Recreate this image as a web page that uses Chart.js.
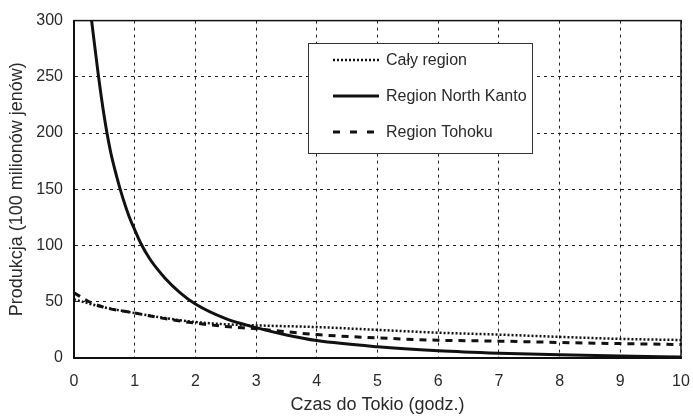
<!DOCTYPE html>
<html>
<head>
<meta charset="utf-8">
<script src="https://cdn.jsdelivr.net/npm/chart.js@4"></script>
<style>
  html, body { margin: 0; padding: 0; background: #fff; }
  #wrap { width: 693px; height: 419px; }
</style>
</head>
<body>
<div id="wrap"><canvas id="chart" width="693" height="419"></canvas></div>
<script>
// dane
const calyX = [0, 0.5, 1, 1.5, 2, 2.5, 3, 4, 5, 6, 7, 8, 9, 10];
const calyY = [52, 45, 40, 35.5, 32, 30, 29, 27.5, 25, 22.5, 20.8, 18.8, 17, 16];

const kantoX = [0.29, 0.4, 0.5, 0.6, 0.7, 0.8, 0.9, 1, 1.1, 1.25, 1.5, 1.75, 2, 2.5, 3, 3.5, 4, 5, 6, 7, 8, 9, 10];
const kantoY = [300, 252, 214, 184, 162, 143, 127, 114, 102, 88, 71, 58, 48, 35, 27, 20.5, 15.5, 10, 6.5, 4.3, 2.8, 1.7, 1];

const tohokuX = [0, 0.25, 0.5, 1, 1.5, 2, 2.5, 3, 4, 5, 6, 7, 8, 9, 10];
const tohokuY = [58, 50, 45, 40, 35, 31, 28, 26, 20.8, 17.9, 15.8, 15, 13.8, 12.8, 12];

const seriesNames = ["Cały region", "Region North Kanto", "Region Tohoku"];
const xTicks = [0, 1, 2, 3, 4, 5, 6, 7, 8, 9, 10];
const yTicks = [0, 50, 100, 150, 200, 250, 300];

const toPoints = (xs, ys) => xs.map((x, i) => ({ x, y: ys[i] }));

const FONT = "'Liberation Sans', Arial, sans-serif";
const TXT = "#2a2a2a";

// ramka wokół obszaru wykresu
const framePlugin = {
    id: "frame",
    afterDatasetsDraw(chart) {
        const { ctx, chartArea: a } = chart;
        ctx.save();
        ctx.strokeStyle = "#111";
        ctx.lineWidth = 1.5;
        ctx.strokeRect(a.left, a.top, a.right - a.left, a.bottom - a.top);
        ctx.restore();
    }
};

// legenda w środku wykresu
const legendBoxPlugin = {
    id: "legendBox",
    afterDraw(chart) {
        const ctx = chart.ctx;
        const box = { x: 308, y: 43, w: 224, h: 110 };
        ctx.save();
        ctx.fillStyle = "#fff";
        ctx.fillRect(box.x, box.y, box.w, box.h);
        ctx.strokeStyle = "#333";
        ctx.lineWidth = 1;
        ctx.strokeRect(box.x + 0.5, box.y + 0.5, box.w, box.h);

        const rows = [60, 96, 132];
        const dashes = [[2, 2], [], [7, 10]];
        const widths = [2.5, 3, 3];
        chart.data.datasets.forEach((ds, i) => {
            ctx.beginPath();
            ctx.setLineDash(dashes[i]);
            ctx.lineWidth = widths[i];
            ctx.strokeStyle = "#111";
            ctx.moveTo(333, rows[i]);
            ctx.lineTo(379, rows[i]);
            ctx.stroke();
            ctx.setLineDash([]);
            ctx.fillStyle = TXT;
            ctx.font = "16px " + FONT;
            ctx.textBaseline = "middle";
            ctx.fillText(ds.label, 386, rows[i] + 1);
        });
        ctx.restore();
    }
};

new Chart(document.getElementById("chart"), {
    type: "line",
    data: {
        datasets: [
            {
                label: seriesNames[0],
                data: toPoints(calyX, calyY),
                borderColor: "#111",
                borderWidth: 2.5,
                borderDash: [2, 2],
                pointRadius: 0,
                cubicInterpolationMode: "monotone"
            },
            {
                label: seriesNames[1],
                data: toPoints(kantoX, kantoY),
                borderColor: "#111",
                borderWidth: 3,
                pointRadius: 0,
                cubicInterpolationMode: "monotone"
            },
            {
                label: seriesNames[2],
                data: toPoints(tohokuX, tohokuY),
                borderColor: "#111",
                borderWidth: 3,
                borderDash: [7, 6],
                pointRadius: 0,
                cubicInterpolationMode: "monotone"
            }
        ]
    },
    options: {
        responsive: false,
        animation: false,
        layout: { padding: { top: 20, right: 0, left: 0, bottom: 0 } },
        plugins: {
            legend: { display: false },
            tooltip: { enabled: false }
        },
        scales: {
            x: {
                type: "linear",
                min: 0,
                max: 10,
                afterBuildTicks: (scale) => { scale.ticks = xTicks.map(v => ({ value: v })); },
                afterFit: (scale) => {
                    scale.height = 61;
                    scale.paddingRight = 12;
                },
                ticks: { color: TXT, font: { family: FONT, size: 16 }, padding: 14, maxRotation: 0 },
                grid: { color: "#222", lineWidth: 1, drawTicks: false },
                border: { color: "#111", width: 2, dash: [3, 4] },
                title: {
                    display: true,
                    text: "Czas do Tokio (godz.)",
                    color: TXT,
                    font: { family: FONT, size: 18 },
                    padding: { top: 0, bottom: 3 }
                }
            },
            y: {
                min: 0,
                max: 300,
                afterBuildTicks: (scale) => { scale.ticks = yTicks.map(v => ({ value: v })); },
                afterFit: (scale) => { scale.width = 74; },
                ticks: { color: TXT, font: { family: FONT, size: 16 }, padding: 11 },
                grid: { color: "#222", lineWidth: 1, drawTicks: false },
                border: { color: "#111", width: 2, dash: [3, 4] },
                title: {
                    display: true,
                    text: "Produkcja (100 milionów jenów)",
                    color: TXT,
                    font: { family: FONT, size: 18 },
                    padding: { top: 6, bottom: 0 }
                }
            }
        }
    },
    plugins: [framePlugin, legendBoxPlugin]
});
</script>
</body>
</html>
